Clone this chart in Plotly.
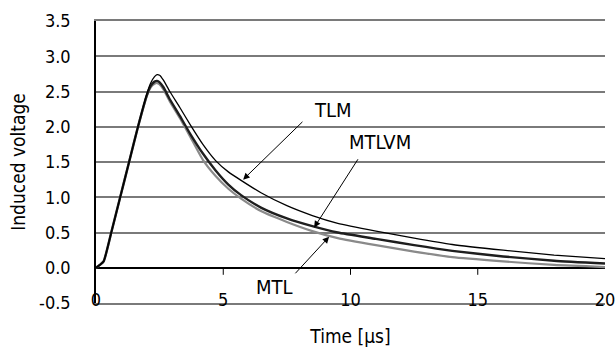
import plotly.graph_objects as go

time_us = [0, 0.15, 0.3, 0.6, 0.95, 1.3, 1.65, 2.0, 2.15, 2.3, 2.4, 2.5, 2.65, 2.9, 3.3, 3.7,
           4.2, 4.7, 5.2, 5.7, 6.5, 7.5, 8.5, 9.5, 11, 12.5, 14, 16, 18, 20]
tlm = [0, 0.04, 0.09, 0.5, 1.0, 1.5, 2.0, 2.47, 2.62, 2.71, 2.74, 2.73, 2.66, 2.50, 2.27, 2.03,
       1.75, 1.52, 1.36, 1.24, 1.06, 0.88, 0.74, 0.63, 0.52, 0.42, 0.33, 0.25, 0.18, 0.13]
mtlvm = [0, 0.04, 0.09, 0.5, 1.0, 1.5, 2.0, 2.45, 2.58, 2.64, 2.65, 2.63, 2.56, 2.39, 2.15, 1.90,
         1.62, 1.38, 1.18, 1.03, 0.85, 0.70, 0.59, 0.50, 0.41, 0.32, 0.24, 0.16, 0.10, 0.06]
mtl = [0, 0.04, 0.09, 0.5, 1.0, 1.5, 2.0, 2.44, 2.56, 2.61, 2.62, 2.60, 2.53, 2.36, 2.12, 1.86,
       1.53, 1.30, 1.12, 0.98, 0.80, 0.65, 0.52, 0.42, 0.32, 0.23, 0.15, 0.09, 0.04, 0.01]

y_tick_vals = [-0.5, 0, 0.5, 1.0, 1.5, 2.0, 2.5, 3.0, 3.5]
y_tick_text = ["-0.5", "0.0", "0.5", "1.0", "1.5", "2.0", "2.5", "3.0", "3.5"]
x_tick_vals = [0, 5, 10, 15, 20]
x_tick_text = ["0", "5", "10", "15", "20"]
# minor tick marks hanging below the zero line (x axis crosses at 0)
zero_tick_x = [5, 10, 15]

# labels: (text, text_x, text_y, arrow_tail_x, arrow_tail_y, arrow_tip_x, arrow_tip_y)
labels = [
    ("TLM", 9.31, 2.24, 8.17, 2.09, 5.78, 1.25),
    ("MTLVM", 11.16, 1.79, 10.33, 1.56, 8.57, 0.57),
    ("MTL", 7.03, -0.27, 7.78, -0.10, 9.16, 0.44),
]

FONT = "DejaVu Sans Condensed"
GRID = "#7a7a7a"

fig = go.Figure()

fig.add_trace(go.Scatter(x=time_us, y=mtl, mode="lines", name="MTL",
                         line=dict(color="#8a8a8a", width=2.2, shape="spline", smoothing=0.5)))
fig.add_trace(go.Scatter(x=time_us, y=mtlvm, mode="lines", name="MTLVM",
                         line=dict(color="#1e1e1e", width=2.4, shape="spline", smoothing=0.5)))
fig.add_trace(go.Scatter(x=time_us, y=tlm, mode="lines", name="TLM",
                         line=dict(color="#000000", width=1.3, shape="spline", smoothing=0.5)))
fig.add_trace(go.Scatter(x=zero_tick_x, y=[0] * len(zero_tick_x), mode="markers",
                         marker=dict(size=1, color="rgba(0,0,0,0)"),
                         error_y=dict(type="data", symmetric=False,
                                      array=[0] * len(zero_tick_x),
                                      arrayminus=[0.1] * len(zero_tick_x),
                                      color="#000", thickness=1, width=0),
                         hoverinfo="skip"))

for text, tx, ty, ax, ay, px, py in labels:
    fig.add_annotation(x=tx, y=ty, text=text, showarrow=False,
                       font=dict(family=FONT, size=20, color="#000"))
    fig.add_annotation(x=px, y=py, ax=ax, ay=ay, axref="x", ayref="y", text="",
                       showarrow=True, arrowhead=2, arrowsize=1.3, arrowwidth=1,
                       arrowcolor="#000")

fig.update_layout(
    template="none",
    width=616, height=347,
    margin=dict(l=96, r=11, t=21, b=44),
    paper_bgcolor="white", plot_bgcolor="rgba(0,0,0,0)",
    showlegend=False,
    font=dict(family=FONT, size=18, color="#000"),
    xaxis=dict(range=[0, 20], tickvals=x_tick_vals, ticktext=x_tick_text,
               showgrid=False, zeroline=False, automargin=False,
               showline=True, linecolor=GRID, linewidth=1.5, mirror=True,
               ticks="", ticklabelstandoff=-20,
               title=dict(text="Time [μs]", font=dict(size=19), standoff=25)),
    yaxis=dict(range=[-0.5, 3.5], tickvals=y_tick_vals, ticktext=y_tick_text,
               showgrid=True, gridcolor=GRID, gridwidth=1.5, automargin=False,
               zeroline=True, zerolinecolor="#000", zerolinewidth=1.5,
               showline=True, linecolor="#000", linewidth=1.5,
               ticks="outside", ticklen=20, tickcolor="rgba(0,0,0,0)",
               title=dict(text="Induced voltage", font=dict(size=19), standoff=8)),
    yaxis2=dict(range=[-0.5, 3.5], overlaying="y", side="right", anchor="x",
                showticklabels=False, showgrid=False, zeroline=False, ticks="",
                showline=True, linecolor=GRID, linewidth=1.5),
)

fig.write_html("out.html", config={"displayModeBar": False},
               post_script="document.body.style.margin='0';")
